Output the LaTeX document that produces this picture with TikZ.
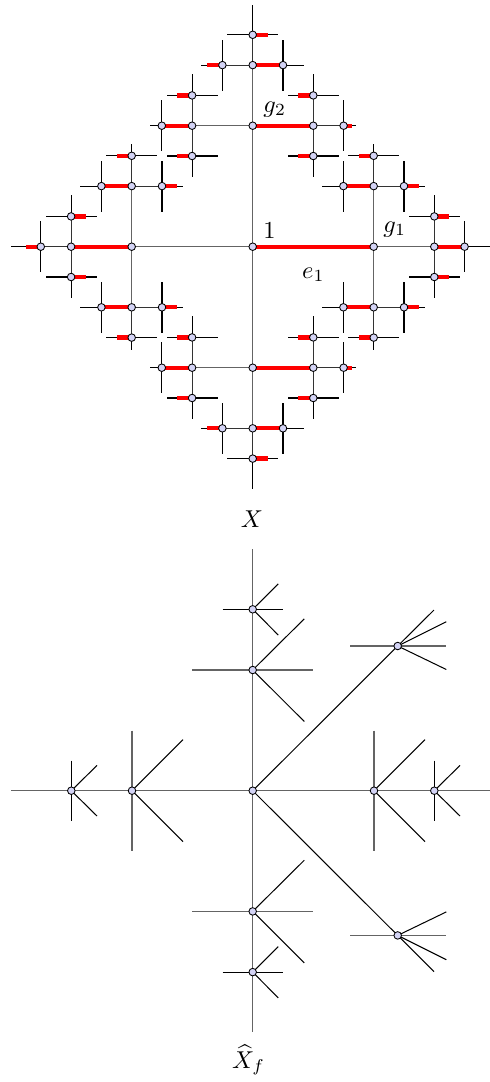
\documentclass[tikz,border=0pt]{standalone}
\usetikzlibrary{calc}
\definecolor{vfill}{RGB}{212,212,246}
\definecolor{edgegray}{RGB}{100,100,100}
\pgfdeclarelayer{redl}
\pgfdeclarelayer{top}
\pgfsetlayers{main,redl,top}
\begin{document}
\begin{tikzpicture}[x=0.41pt,y=-0.41pt,
  mainedge/.style={draw=edgegray,line width=0.55pt},
  subedge/.style={draw=black!80,line width=0.45pt},
  leafedge/.style={draw=black,line width=0.42pt},
  rededge/.style={draw=red,line width=1.75pt},
  vtx/.style={circle,draw=black,line width=0.35pt,fill=vfill,inner sep=0pt,minimum size=3.1pt},
  lbl/.style={inner sep=0pt,anchor=base west}]
\useasboundingbox (0,0) rectangle (490,1082);
\clip (0,0) rectangle (490,1082);
% ---------------- top: X ----------------
\coordinate (C) at (252.7,246.7);
\begin{pgfonlayer}{top}\node[vtx] (nC) at (C) {};\end{pgfonlayer}
\foreach \da in {0,1,2,3}{
  \coordinate (v\da) at ($(C)+({\da*90}:121)$);
  \draw[mainedge] (C) -- (v\da);
  \ifnum\da=0 \begin{pgfonlayer}{redl}\draw[rededge] (C) -- (v\da);\end{pgfonlayer}\fi
  \begin{pgfonlayer}{top}\node[vtx] (n\da) at (v\da) {};\end{pgfonlayer}
  \pgfmathtruncatemacro\oa{mod(\da+2,4)}
  \pgfmathtruncatemacro\pa{1-mod(\da,2)}
  \foreach \db in {0,1,2,3}{
    \ifnum\db=\oa\relax\else
      \coordinate (v\da\db) at ($(v\da)+({\db*90}:60.6)$);
      \draw[mainedge] (v\da) -- (v\da\db);
      \pgfmathtruncatemacro\rb{or(and(equal(\db,0),equal(\pa,0)),and(equal(\db,2),equal(\pa,1)))}
      \ifnum\rb=1 \begin{pgfonlayer}{redl}\draw[rededge] (v\da) -- (v\da\db);\end{pgfonlayer}\fi
      \begin{pgfonlayer}{top}\node[vtx] (n\da\db) at (v\da\db) {};\end{pgfonlayer}
      \pgfmathtruncatemacro\ob{mod(\db+2,4)}
      \pgfmathtruncatemacro\pb{mod(\pa+1-mod(\db,2),2)}
      \foreach \dc in {0,1,2,3}{
        \ifnum\dc=\ob\relax\else
          \coordinate (v\da\db\dc) at ($(v\da\db)+({\dc*90}:30.3)$);
          \draw[subedge] (v\da\db) -- (v\da\db\dc);
          \pgfmathtruncatemacro\rc{or(and(equal(\dc,0),equal(\pb,0)),and(equal(\dc,2),equal(\pb,1)))}
          \ifnum\rc=1 \begin{pgfonlayer}{redl}\draw[rededge] (v\da\db) -- (v\da\db\dc);\end{pgfonlayer}\fi
          \begin{pgfonlayer}{top}\node[vtx] (n\da\db\dc) at (v\da\db\dc) {};\end{pgfonlayer}
          \pgfmathtruncatemacro\oc{mod(\dc+2,4)}
          \pgfmathtruncatemacro\pc{mod(\pb+1-mod(\dc,2),2)}
          \foreach \de in {0,1,2,3}{
            \ifnum\de=\oc\relax\else
              \pgfmathsetmacro\len{ifthenelse(equal(\de,\dc),ifthenelse(and(equal(\da,\db),equal(\db,\dc)),30,ifthenelse(equal(\db,\dc),12,21)),25.5)}
              \coordinate (l\da\db\dc\de) at ($(v\da\db\dc)+({\de*90}:\len)$);
              \draw[leafedge] (v\da\db\dc) -- (l\da\db\dc\de);
              \pgfmathtruncatemacro\re{or(and(equal(\de,0),equal(\pc,0)),and(equal(\de,2),equal(\pc,1)))}
              \ifnum\re=1
                \pgfmathsetmacro\rlen{min(15,\len-4)}
                \coordinate (r\da\db\dc\de) at ($(v\da\db\dc)+({\de*90}:\rlen)$);
                \begin{pgfonlayer}{redl}\draw[rededge] (v\da\db\dc) -- (r\da\db\dc\de);\end{pgfonlayer}
              \fi
            \fi
          }
        \fi
      }
    \fi
  }
}
\node[lbl] (lone) at (263,238) {$1$};
\node[lbl] (lg1) at (383,232) {$g_1$};
\node[lbl] (lg2) at (263,112) {$g_2$};
\node[lbl] (le1) at (301.7,278) {$e_1$};
\node[anchor=base,inner sep=0pt] (lX) at (252,527.3) {$X$};
% ---------------- bottom: X_f ----------------
\coordinate (B) at (252.7,790.7);
\coordinate (P1) at (132,790.7);  \coordinate (P2) at (71.3,790.7);
\coordinate (Q1) at (374,790.7);  \coordinate (Q2) at (434.3,790.7);
\coordinate (U1) at (252.7,670);  \coordinate (U2) at (252.7,609.3);
\coordinate (D1) at (252.7,911.4);\coordinate (D2) at (252.7,972.1);
\coordinate (R1) at (397.7,646);  \coordinate (R2) at (397.7,935.4);
\coordinate (eL) at (11,790.7);   \coordinate (eR) at (495,790.7);
\coordinate (eT) at (252.7,549.3);\coordinate (eB) at (252.7,1032.3);
\draw[mainedge] (eL) -- (P2) -- (P1) -- (B) -- (Q1) -- (Q2) -- (eR);
\draw[mainedge] (eT) -- (U2) -- (U1) -- (B) -- (D1) -- (D2) -- (eB);
\draw[leafedge] (B) -- (R1);
\draw[leafedge] (B) -- (R2);
% horizontal-axis vertices
\foreach \v in {P1,Q1}{
  \coordinate (\v t) at ($(\v)+(0,-60)$); \coordinate (\v b) at ($(\v)+(0,60)$);
  \coordinate (\v u) at ($(\v)+(51,-51)$); \coordinate (\v d) at ($(\v)+(51,51)$);
  \draw[mainedge] (\v t) -- (\v) -- (\v b);
  \draw[leafedge] (\v) -- (\v u); \draw[leafedge] (\v) -- (\v d);
}
\foreach \v in {P2,Q2}{
  \coordinate (\v t) at ($(\v)+(0,-30)$); \coordinate (\v b) at ($(\v)+(0,30)$);
  \coordinate (\v u) at ($(\v)+(25.7,-25.3)$); \coordinate (\v d) at ($(\v)+(25.7,25.3)$);
  \draw[leafedge] (\v t) -- (\v) -- (\v b);
  \draw[leafedge] (\v) -- (\v u); \draw[leafedge] (\v) -- (\v d);
}
% vertical-axis vertices
\foreach \v in {U1,D1}{
  \coordinate (\v l) at ($(\v)+(-60.3,0)$); \coordinate (\v r) at ($(\v)+(60.6,0)$);
  \coordinate (\v u) at ($(\v)+(51.6,-51.2)$); \coordinate (\v d) at ($(\v)+(51.6,51.5)$);
  \draw[mainedge] (\v l) -- (\v) -- (\v r);
  \draw[leafedge] (\v) -- (\v u); \draw[leafedge] (\v) -- (\v d);
}
\foreach \v in {U2,D2}{
  \coordinate (\v l) at ($(\v)+(-30,0)$); \coordinate (\v r) at ($(\v)+(30,0)$);
  \coordinate (\v u) at ($(\v)+(25.6,-25.5)$); \coordinate (\v d) at ($(\v)+(25.6,25.8)$);
  \draw[leafedge] (\v l) -- (\v) -- (\v r);
  \draw[leafedge] (\v) -- (\v u); \draw[leafedge] (\v) -- (\v d);
}
% diagonal vertices
\coordinate (R1l) at ($(R1)+(-47.7,0)$); \coordinate (R1r) at ($(R1)+(48.6,0)$);
\coordinate (R1a) at ($(R1)+(36.3,-36)$); \coordinate (R1b) at ($(R1)+(48.6,-24.3)$);
\coordinate (R1c) at ($(R1)+(48.6,23.5)$);
\draw[mainedge] (R1l) -- (R1) -- (R1r);
\draw[leafedge] (R1) -- (R1a); \draw[leafedge] (R1) -- (R1b); \draw[leafedge] (R1) -- (R1c);
\coordinate (R2l) at ($(R2)+(-47.7,0)$); \coordinate (R2r) at ($(R2)+(48.6,0)$);
\coordinate (R2a) at ($(R2)+(36.3,36.3)$); \coordinate (R2b) at ($(R2)+(48.6,24.3)$);
\coordinate (R2c) at ($(R2)+(48.6,-23.5)$);
\draw[mainedge] (R2l) -- (R2) -- (R2r);
\draw[leafedge] (R2) -- (R2a); \draw[leafedge] (R2) -- (R2b); \draw[leafedge] (R2) -- (R2c);
\foreach \v in {B,P1,P2,Q1,Q2,U1,U2,D1,D2,R1,R2}{
  \node[vtx] (n\v) at (\v) {};
}
\node[lbl] (lXf) at (231.7,1068.3) {$\widehat{X}_f$};
\end{tikzpicture}
\end{document}
